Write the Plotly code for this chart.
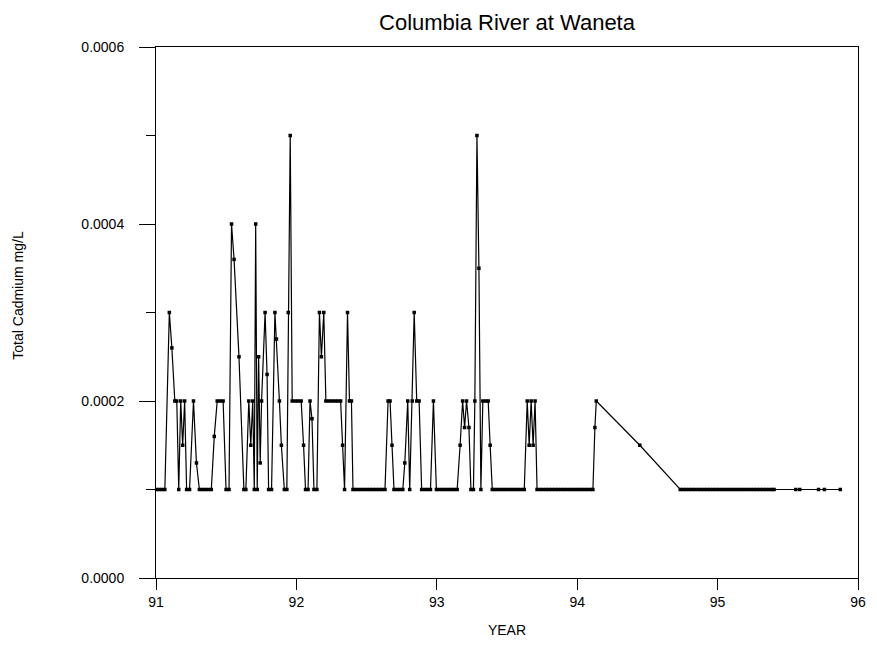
import plotly.graph_objects as go

title_text = "Columbia River at Waneta"
x_title = "YEAR"
y_title = "Total Cadmium mg/L"

year = [
    91.000, 91.021, 91.042, 91.063, 91.095, 91.113, 91.134, 91.148, 91.162, 91.176,
    91.190, 91.204, 91.218, 91.239, 91.267, 91.288, 91.309, 91.331, 91.352, 91.373,
    91.394, 91.415, 91.436, 91.457, 91.478, 91.499, 91.520, 91.538, 91.556, 91.591,
    91.626, 91.640, 91.661, 91.675, 91.689, 91.700, 91.710, 91.721, 91.731, 91.742,
    91.752, 91.777, 91.791, 91.802, 91.823, 91.847, 91.858, 91.879, 91.893, 91.914,
    91.932, 91.942, 91.956, 91.970, 91.992, 92.013, 92.034, 92.051, 92.065, 92.083,
    92.097, 92.111, 92.125, 92.146, 92.164, 92.178, 92.195, 92.210, 92.231, 92.252,
    92.273, 92.294, 92.315, 92.329, 92.343, 92.364, 92.378, 92.392, 92.403, 92.421,
    92.442, 92.463, 92.484, 92.505, 92.526, 92.547, 92.568, 92.589, 92.610, 92.631,
    92.653, 92.667, 92.681, 92.695, 92.716, 92.737, 92.758, 92.772, 92.793, 92.807,
    92.825, 92.839, 92.857, 92.874, 92.892, 92.913, 92.934, 92.955, 92.976, 92.997,
    93.018, 93.039, 93.060, 93.082, 93.103, 93.124, 93.145, 93.166, 93.184, 93.198,
    93.212, 93.229, 93.243, 93.261, 93.271, 93.286, 93.300, 93.314, 93.328, 93.349,
    93.366, 93.380, 93.395, 93.412, 93.433, 93.454, 93.475, 93.496, 93.518, 93.539,
    93.560, 93.581, 93.602, 93.623, 93.644, 93.658, 93.672, 93.686, 93.700, 93.714,
    93.736, 93.757, 93.778, 93.799, 93.820, 93.841, 93.862, 93.883, 93.904, 93.925,
    93.947, 93.968, 93.989, 94.010, 94.031, 94.052, 94.073, 94.094, 94.112, 94.126,
    94.136, 94.446, 94.734, 94.755, 94.776, 94.797, 94.818, 94.839, 94.861, 94.882,
    94.903, 94.924, 94.945, 94.966, 94.987, 95.008, 95.029, 95.051, 95.072, 95.093,
    95.114, 95.135, 95.156, 95.177, 95.198, 95.219, 95.240, 95.261, 95.282, 95.303,
    95.324, 95.345, 95.366, 95.387, 95.402, 95.557, 95.585, 95.719, 95.761, 95.874,
]

cadmium = [
    0.00010, 0.00010, 0.00010, 0.00010, 0.00030, 0.00026, 0.00020, 0.00020, 0.00010, 0.00020,
    0.00015, 0.00020, 0.00010, 0.00010, 0.00020, 0.00013, 0.00010, 0.00010, 0.00010, 0.00010,
    0.00010, 0.00016, 0.00020, 0.00020, 0.00020, 0.00010, 0.00010, 0.00040, 0.00036, 0.00025,
    0.00010, 0.00010, 0.00020, 0.00015, 0.00020, 0.00010, 0.00040, 0.00010, 0.00025, 0.00013,
    0.00020, 0.00030, 0.00023, 0.00010, 0.00010, 0.00030, 0.00027, 0.00020, 0.00015, 0.00010,
    0.00010, 0.00030, 0.00050, 0.00020, 0.00020, 0.00020, 0.00020, 0.00015, 0.00010, 0.00010,
    0.00020, 0.00018, 0.00010, 0.00010, 0.00030, 0.00025, 0.00030, 0.00020, 0.00020, 0.00020,
    0.00020, 0.00020, 0.00020, 0.00015, 0.00010, 0.00030, 0.00020, 0.00020, 0.00010, 0.00010,
    0.00010, 0.00010, 0.00010, 0.00010, 0.00010, 0.00010, 0.00010, 0.00010, 0.00010, 0.00010,
    0.00020, 0.00020, 0.00015, 0.00010, 0.00010, 0.00010, 0.00010, 0.00013, 0.00020, 0.00010,
    0.00020, 0.00030, 0.00020, 0.00020, 0.00010, 0.00010, 0.00010, 0.00010, 0.00020, 0.00010,
    0.00010, 0.00010, 0.00010, 0.00010, 0.00010, 0.00010, 0.00010, 0.00015, 0.00020, 0.00017,
    0.00020, 0.00017, 0.00010, 0.00010, 0.00020, 0.00050, 0.00035, 0.00010, 0.00020, 0.00020,
    0.00020, 0.00015, 0.00010, 0.00010, 0.00010, 0.00010, 0.00010, 0.00010, 0.00010, 0.00010,
    0.00010, 0.00010, 0.00010, 0.00010, 0.00020, 0.00015, 0.00020, 0.00015, 0.00020, 0.00010,
    0.00010, 0.00010, 0.00010, 0.00010, 0.00010, 0.00010, 0.00010, 0.00010, 0.00010, 0.00010,
    0.00010, 0.00010, 0.00010, 0.00010, 0.00010, 0.00010, 0.00010, 0.00010, 0.00010, 0.00017,
    0.00020, 0.00015, 0.00010, 0.00010, 0.00010, 0.00010, 0.00010, 0.00010, 0.00010, 0.00010,
    0.00010, 0.00010, 0.00010, 0.00010, 0.00010, 0.00010, 0.00010, 0.00010, 0.00010, 0.00010,
    0.00010, 0.00010, 0.00010, 0.00010, 0.00010, 0.00010, 0.00010, 0.00010, 0.00010, 0.00010,
    0.00010, 0.00010, 0.00010, 0.00010, 0.00010, 0.00010, 0.00010, 0.00010, 0.00010, 0.00010,
]

x_ticks = [91, 92, 93, 94, 95, 96]
y_ticks = [0.0, 0.0002, 0.0004, 0.0006]
y_tick_labels = ["0.0000", "0.0002", "0.0004", "0.0006"]

FONT = "Liberation Sans, Arial, sans-serif"

fig = go.Figure()
fig.add_trace(go.Scatter(
    x=year, y=cadmium, mode="lines+markers",
    line=dict(color="black", width=1.2),
    marker=dict(symbol="square", size=3.5, color="black", line=dict(width=0)),
    showlegend=False, hoverinfo="skip",
))

# the page body has an 8px margin, so the figure is sized/offset to compensate
fig.update_layout(
    width=869, height=650,
    margin=dict(l=148, r=11, t=39, b=80),
    paper_bgcolor="white", plot_bgcolor="white",
    font=dict(family=FONT, color="black", size=14),
    title=dict(text=title_text, xref="paper", x=0.5, xanchor="center",
               yref="container", y=0.978, yanchor="middle",
               font=dict(family=FONT, size=22, color="black")),
    annotations=[dict(
        text=y_title, textangle=-90, xref="paper", yref="paper",
        x=-0.197, y=0.533, xanchor="center", yanchor="middle", showarrow=False,
        font=dict(family=FONT, size=14, color="black"),
    )],
)

fig.update_xaxes(
    range=[91, 96], tickmode="array", tickvals=x_ticks, ticktext=[str(v) for v in x_ticks],
    ticks="outside", ticklen=11, tickwidth=1, tickcolor="black",
    showline=True, linecolor="black", linewidth=1, mirror=True,
    showgrid=False, zeroline=False,
    title=dict(text=x_title, font=dict(family=FONT, size=14), standoff=16),
    tickfont=dict(family=FONT, size=14),
)
fig.update_yaxes(
    range=[0, 0.0006], tickmode="array", tickvals=y_ticks, ticktext=y_tick_labels,
    ticks="outside", ticklen=16, tickwidth=1, tickcolor="black",
    minor=dict(ticks="outside", ticklen=9, tickwidth=1, tickcolor="black",
               tickmode="linear", tick0=0, dtick=0.0001, showgrid=False),
    showline=True, linecolor="black", linewidth=1, mirror=True,
    showgrid=False, zeroline=False,
    ticklabelstandoff=12,
    tickfont=dict(family=FONT, size=14),
)

fig.write_html("out.html")
